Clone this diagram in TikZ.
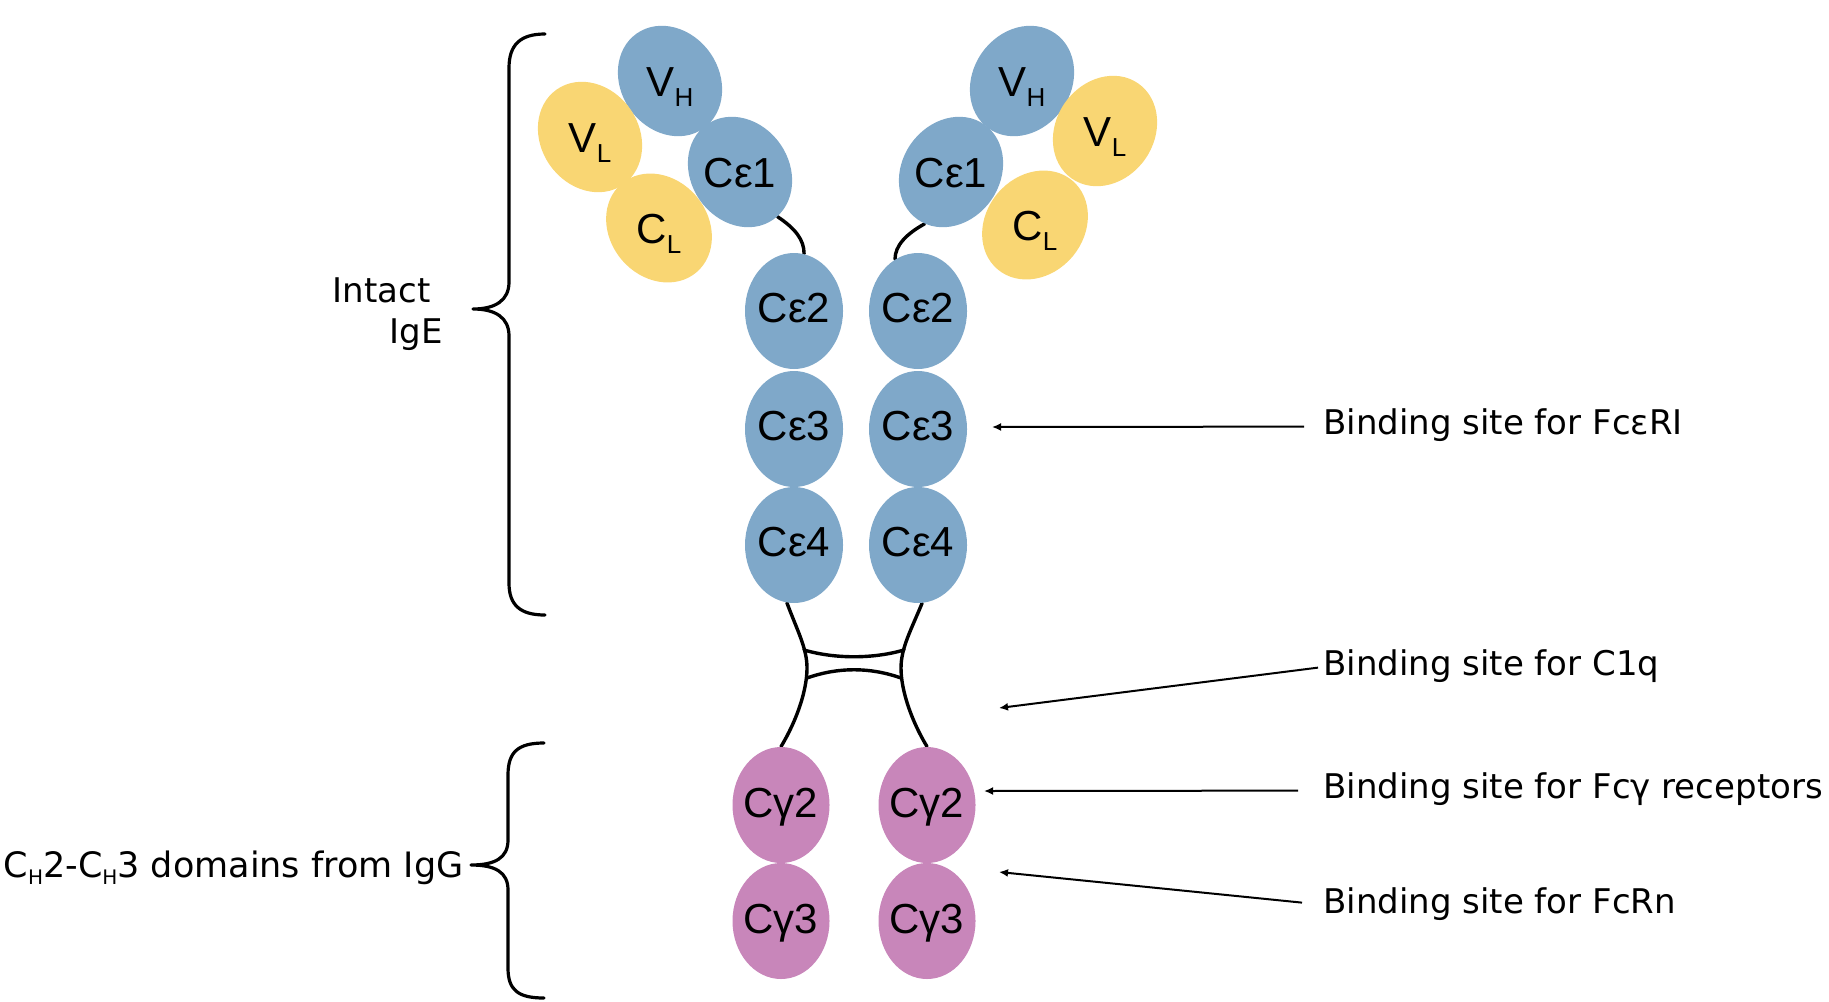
\documentclass[tikz,border=0pt]{standalone}
\usepackage{fontspec}
\setmainfont{DejaVu Sans}
\newfontfamily\arialf{Liberation Sans}
\usetikzlibrary{shapes.geometric,arrows.meta}
\definecolor{domblue}{HTML}{7FA8C9}
\definecolor{domyel}{HTML}{F9D673}
\definecolor{dompink}{HTML}{C886BA}
\newcommand\dsub[1]{\raisebox{-5pt}{\fontsize{13}{14}\selectfont #1}}
\newcommand\tsub[1]{\raisebox{-3.5pt}{\fontsize{10}{11}\selectfont #1}}
\pgfdeclarelayer{bg}
\pgfsetlayers{bg,main}
\begin{document}
\begin{tikzpicture}[x=0.5pt,y=-0.5pt,
  dom/.style={ellipse, minimum width=49pt, minimum height=58pt, inner sep=0pt},
  gdom/.style={dom, minimum width=48.5pt, fill=dompink},
  dlab/.style={font=\arialf\fontsize{21}{24}\selectfont, inner sep=0pt, anchor=base},
  side/.style={font=\fontsize{17}{20}\selectfont, inner sep=0pt},
  hinge/.style={line width=1.7pt, line cap=round},
  brace/.style={line width=1.6pt, line cap=round, line join=round},
  arr/.style={line width=1pt, -{Latex[length=4.5pt,width=4pt]}}
]
\useasboundingbox (0,0) rectangle (1829,1001);

% Fab arms
\node[dom, fill=domblue, rotate=35] (vhL) at (670,81) {};
\node[dom, fill=domyel, rotate=35] (vlL) at (590,137) {};
\node[dom, fill=domyel, rotate=40] (clL) at (659,228) {};
\node[dom, fill=domblue, rotate=35] (ce1L) at (740,172) {};
\node[dom, fill=domblue, rotate=-35] (vhR) at (1022,81) {};
\node[dom, fill=domyel, rotate=-35] (vlR) at (1105,131) {};
\node[dom, fill=domblue, rotate=-35] (ce1R) at (951,172) {};
\node[dom, fill=domyel, rotate=-40] (clR) at (1035,225) {};

% Fc columns
\node[dom, fill=domblue] (ce2L) at (794,311) {};
\node[dom, fill=domblue] (ce3L) at (794,429) {};
\node[dom, fill=domblue] (ce4L) at (794,545) {};
\node[dom, fill=domblue] (ce2R) at (918,311) {};
\node[dom, fill=domblue] (ce3R) at (918,429) {};
\node[dom, fill=domblue] (ce4R) at (918,545) {};
\node[gdom] (cg2L) at (781,805) {};
\node[gdom] (cg3L) at (781,921) {};
\node[gdom] (cg2R) at (927,805) {};
\node[gdom] (cg3R) at (927,921) {};

% labels
\node[dlab, yshift=-7.5pt] (tvhL) at (vhL) {V\dsub{H}};
\node[dlab, yshift=-7.5pt] (tvlL) at (vlL) {V\dsub{L}};
\node[dlab, yshift=-7.5pt] (tclL) at (clL) {C\dsub{L}};
\node[dlab, yshift=-7.5pt] (tce1L) at (ce1L) {Cε1};
\node[dlab, yshift=-7.5pt] (tvhR) at (vhR) {V\dsub{H}};
\node[dlab, yshift=-7.5pt] (tvlR) at (vlR) {V\dsub{L}};
\node[dlab, yshift=-7.5pt] (tclR) at (clR) {C\dsub{L}};
\node[dlab, yshift=-7.5pt] (tce1R) at (ce1R) {Cε1};
\node[dlab, yshift=-5.5pt] (tce2L) at (ce2L) {Cε2};
\node[dlab, yshift=-5.5pt] (tce3L) at (ce3L) {Cε3};
\node[dlab, yshift=-5.5pt] (tce4L) at (ce4L) {Cε4};
\node[dlab, yshift=-5.5pt] (tce2R) at (ce2R) {Cε2};
\node[dlab, yshift=-5.5pt] (tce3R) at (ce3R) {Cε3};
\node[dlab, yshift=-5.5pt] (tce4R) at (ce4R) {Cε4};
\node[dlab, yshift=-6pt] (tcg2L) at (cg2L) {Cγ2};
\node[dlab, yshift=-6pt] (tcg3L) at (cg3L) {Cγ3};
\node[dlab, yshift=-6pt] (tcg2R) at (cg2R) {Cγ2};
\node[dlab, yshift=-6pt] (tcg3R) at (cg3R) {Cγ3};

% hinge connectors (behind domains)
\coordinate (hL) at (807,668);
\coordinate (hR) at (901,668);
\coordinate (s1a) at (804,650);
\coordinate (s1b) at (904,650);
\coordinate (s2a) at (807,678);
\coordinate (s2b) at (901,678);
\begin{pgfonlayer}{bg}
\draw[hinge] (ce1L.-85) .. controls +(18,12) and +(0,-14) .. (ce2L.80);
\draw[hinge] (ce1R.-82) .. controls +(-18,10) and +(0,-14) .. (ce2R.114);
\draw[hinge] (ce4L.-97) .. controls (797,630) and (807,648) .. (hL)
  .. controls (807,690) and (797,720) .. (cg2L.90);
\draw[hinge] (ce4R.-86) .. controls (911,630) and (901,648) .. (hR)
  .. controls (901,690) and (911,720) .. (cg2R.90);
\draw[hinge] (s1a) .. controls (835,659) and (873,659) .. (s1b);
\draw[hinge] (s2a) .. controls (838,667) and (870,667) .. (s2b);
\end{pgfonlayer}

% braces
\draw[brace] (545,34) .. controls (520,34) and (509,45) .. (509,68) -- (509,282)
  .. controls (509,300) and (496,309) .. (473,309)
  .. controls (496,309) and (509,318) .. (509,336) -- (509,583)
  .. controls (509,605) and (520,615) .. (545,615);
\draw[brace] (544,743) .. controls (518,743) and (508,752) .. (508,775) -- (508,840)
  .. controls (508,858) and (495,865) .. (471,865)
  .. controls (495,865) and (508,872) .. (508,890) -- (508,968)
  .. controls (508,990) and (518,998) .. (544,998);

% side texts
\node[side, anchor=base east] (tI1) at (431,302) {Intact};
\node[side, anchor=base east] (tI2) at (443,343) {IgE};
\node[side, font=\fontsize{17.5}{20}\selectfont, anchor=base east] (tCH) at (464,877) {C\tsub{H}2-C\tsub{H}3 domains from IgG};

\node[side, anchor=base west] (t1) at (1323,434) {Binding site for FcεRI};
\node[side, anchor=base west] (t2) at (1323,675) {Binding site for C1q};
\node[side, anchor=base west] (t3) at (1323,798) {Binding site for Fcγ receptors};
\node[side, anchor=base west] (t4) at (1323,913) {Binding site for FcRn};

\coordinate (p1) at (992,427);
\coordinate (p2) at (999,708);
\coordinate (p3) at (984,791);
\coordinate (p4) at (999,872);
\draw[arr] ([xshift=-9.5pt,yshift=-1pt]t1.west) -- (p1);
\draw[arr] ([xshift=-2.5pt,yshift=-1pt]t2.west) -- (p2);
\draw[arr] ([xshift=-12.5pt,yshift=-1pt]t3.west) -- (p3);
\draw[arr] ([xshift=-10.5pt,yshift=0.5pt]t4.west) -- (p4);
\end{tikzpicture}
\end{document}
